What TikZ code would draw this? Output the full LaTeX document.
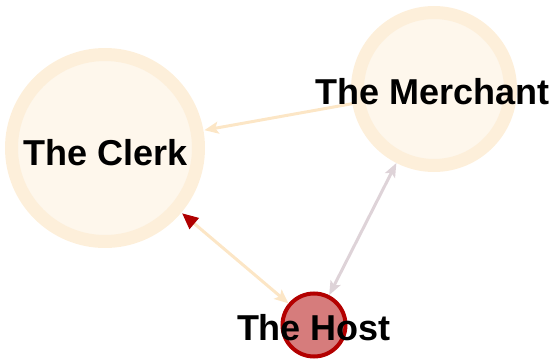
\documentclass[tikz,border=0pt]{standalone}
\usepackage{fontspec}
\setmainfont{Liberation Sans}
\usetikzlibrary{arrows.meta}
\definecolor{ringc}{HTML}{FDEFDA}
\definecolor{fillc}{HTML}{FEF7EC}
\definecolor{edgec}{HTML}{FCE6C6}
\definecolor{grayedge}{HTML}{DED3D8}
\definecolor{hostfill}{HTML}{D67C7C}
\definecolor{hostring}{HTML}{B30000}
\definecolor{redtip}{HTML}{B00000}
\tikzset{
  bigcirc/.style={circle, draw=ringc, fill=fillc, line width=13pt, inner sep=0pt},
  hostcirc/.style={circle, draw=hostring, fill=hostfill, line width=4pt, inner sep=0pt, minimum size=63pt},
  lbl/.style={font=\fontsize{36}{40}\selectfont\bfseries, text=black, inner sep=0pt},
  edge/.style={line width=3pt}
}
\begin{document}
\begin{tikzpicture}[x=1pt,y=-1pt]
\useasboundingbox (0,0) rectangle (555,364);
\node[bigcirc, minimum size=187pt] (clerk) at (105,148) {};
\node[bigcirc, minimum size=153pt] (merchant) at (434,89) {};
\node[hostcirc] (host) at (314,325) {};
\draw[edge, draw=edgec, -{Stealth[length=14pt,width=12pt,inset=3pt]}, shorten >=1pt] (merchant) -- (clerk);
\draw[edge, draw=edgec, {Triangle[length=16pt,width=14pt,fill=redtip,color=redtip]}-{Stealth[length=14pt,width=12pt,inset=3pt]}, shorten <=1pt] (clerk) -- (host);
\draw[edge, draw=grayedge, {Stealth[length=14pt,width=11pt,inset=3pt]}-{Stealth[length=14pt,width=11pt,inset=3pt]}] (host) -- (merchant);
\node[lbl] (clerklbl) at (106,153) {The Clerk};
\node[lbl] (merchantlbl) at (433,92) {The Merchant};
\node[lbl] (hostlbl) at (314,328) {The Host};
\end{tikzpicture}
\end{document}
